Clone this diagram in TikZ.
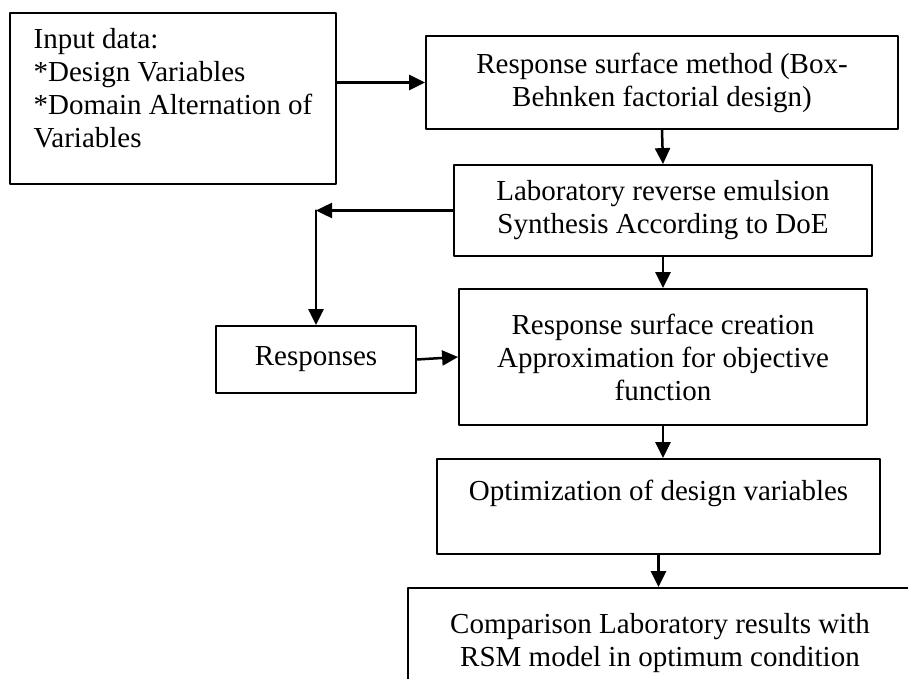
\documentclass[tikz,border=0pt]{standalone}
\usepackage{fontspec}
\setmainfont{Liberation Serif}
\usetikzlibrary{arrows.meta}
\begin{document}
\begin{tikzpicture}[line join=round, line cap=round,>={Triangle[length=16pt,width=15pt]},x=1pt,y=-1pt]
	\tikzset{box style/.style={draw,line width=1.8pt,inner sep=0pt,align=center,font=\fontsize{29}{33}\selectfont},
		flow/.style={->,line width=2.5pt}}
	\clip (0,0) rectangle (908,679);
	\node[box style,align=left,minimum width=326,minimum height=171] (input) at (173,98.5)
		{Input data:\\*Design Variables\\*Domain Alternation of\\Variables\\[-12pt]\mbox{}};
	\node[box style,minimum width=472,minimum height=93] (rsm) at (662,82.5)
		{Response surface method (Box-\\Behnken factorial design)};
	\node[box style,minimum width=418,minimum height=91] (lab) at (663,210.5)
		{Laboratory reverse emulsion\\Synthesis According to DoE};
	\node[box style,minimum width=200,minimum height=67] (resp) at (316,359.5) {Responses};
	\node[box style,minimum width=408,minimum height=136] (creation) at (663,357)
		{Response surface creation\\Approximation for objective\\function};
	\node[box style,minimum width=443,minimum height=95] (optim) at (658.5,506.5)
		{Optimization of design variables\\\mbox{}};
	\node[box style,minimum width=504,minimum height=110] (compare) at (660,643)
		{Comparison Laboratory results with\\RSM model in optimum condition};
	\coordinate (bend) at (lab.west -| resp.north);
	\draw[flow] (input.east |- rsm.west) -- (rsm.west);
	\draw[flow] (rsm.south) -- (lab.north);
	\draw[flow] (lab.west) -- (bend);
	\draw[flow] (bend) -- (resp.north);
	\draw[flow] (lab.south) -- (creation.north);
	\draw[flow] (resp.east) -- (creation.west);
	\draw[flow] (creation.south) -- (creation.south |- optim.north);
	\draw[flow] (optim.south) -- (optim.south |- compare.north);
\end{tikzpicture}
\end{document}
